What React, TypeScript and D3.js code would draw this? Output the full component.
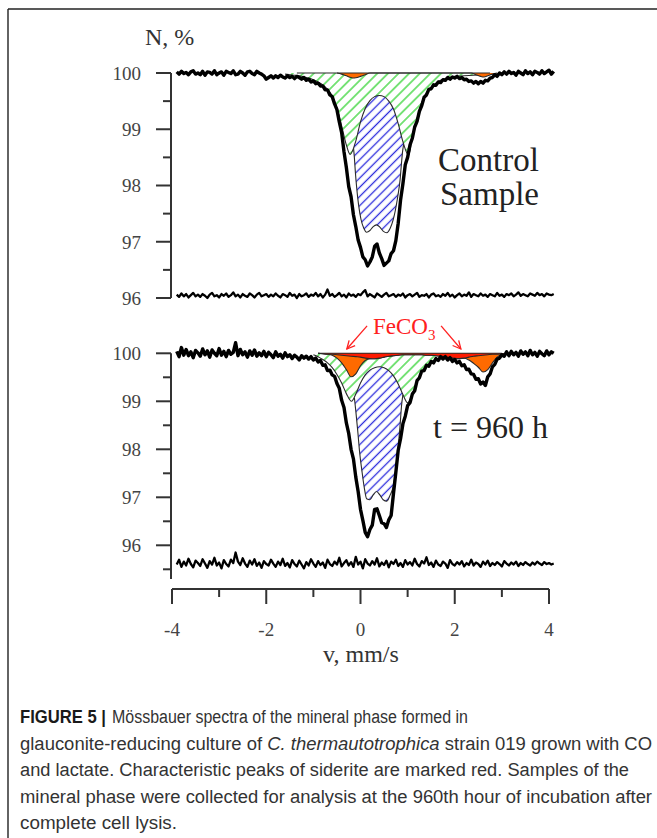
import React from "react";
import * as d3 from "d3";

// ---------- DATA ----------
// velocity channels: start and step (mm/s)
const V0 = -3.9;
const DV = 0.05;

// Control sample: measured spectrum (N, %)
const dataTop = [
  100.02, 99.98, 100.03, 99.99, 100.01, 99.97, 100.02, 100.04, 99.98, 100.0,
  99.97, 100.03, 99.96, 100.02, 100.01, 99.98, 100.04, 99.97, 100.0, 100.02,
  99.96, 100.03, 100.01, 99.99, 100.04, 99.97, 99.98, 100.03, 100.0, 99.96,
  100.02, 100.03, 99.99, 99.97, 100.03, 100.0, 99.98, 99.95, 99.89, 99.92,
  99.95, 99.91, 99.95, 99.92, 99.96, 99.93, 99.91, 99.95, 99.92, 99.94,
  99.9, 99.94, 99.92, 99.89, 99.92, 99.87, 99.89, 99.84, 99.86, 99.81,
  99.82, 99.77, 99.77, 99.7, 99.7, 99.61, 99.58, 99.45, 99.35, 99.13,
  98.94, 98.6, 98.32, 97.98, 97.8, 97.48, 97.27, 97.03, 96.9, 96.73,
  96.68, 96.57, 96.64, 96.73, 96.92, 96.96, 96.8, 96.7, 96.58, 96.62,
  96.66, 96.79, 96.84, 97.02, 97.33, 97.74, 98.03, 98.37, 98.5, 98.72,
  98.84, 99.04, 99.14, 99.32, 99.42, 99.57, 99.61, 99.71, 99.72, 99.79,
  99.78, 99.84, 99.83, 99.88, 99.87, 99.92, 99.89, 99.93, 99.91, 99.94,
  99.9, 99.92, 99.88, 99.89, 99.85, 99.86, 99.82, 99.85, 99.81, 99.85,
  99.82, 99.87, 99.86, 99.91, 99.92, 99.97, 99.94, 100.0, 99.97, 100.02,
  99.98, 100.03, 99.99, 100.01, 99.96, 100.03, 100.0, 99.97, 100.04, 99.99,
  100.02, 99.97, 100.03, 100.01, 99.98, 100.04, 99.99, 100.02, 100.05, 99.98,
  100.03,
];

// Control sample: residual trace
const residTop = [
  96.06, 96.02, 96.08, 96.03, 96.07, 96.01, 96.05, 96.09, 96.03, 96.06,
  96.02, 96.07, 96.04, 96.0, 96.06, 96.09, 96.03, 96.05, 96.01, 96.07,
  96.04, 96.08, 96.02, 96.05, 96.1, 96.03, 96.06, 96.01, 96.07, 96.04,
  96.02, 96.08, 96.05, 96.01, 96.06, 96.09, 96.03, 96.05, 96.07, 96.02,
  96.06, 96.03, 96.08, 96.04, 96.01, 96.07, 96.05, 96.02, 96.09, 96.04,
  96.06, 96.0, 96.07, 96.03, 96.05, 96.08, 96.02, 96.06, 96.04, 96.09,
  96.03, 96.07, 96.01, 96.06, 96.15, 96.04, 96.07, 96.02, 96.05, 96.09,
  96.03, 96.06, 96.01, 96.08, 96.04, 96.06, 96.02, 96.07, 96.05, 96.1,
  96.14, 96.03, 96.07, 96.04, 96.01, 96.08, 96.05, 96.02, 96.06, 96.09,
  96.03, 96.05, 96.07, 96.02, 96.06, 96.04, 96.08, 96.01, 96.05, 96.07,
  96.03, 96.06, 96.09, 96.02, 96.05, 96.04, 96.07, 96.01, 96.06, 96.08,
  96.03, 96.05, 96.02, 96.07, 96.04, 96.09, 96.03, 96.06, 96.01, 96.05,
  96.08, 96.03, 96.06, 96.04, 96.1, 96.02, 96.07, 96.05, 96.03, 96.08,
  96.04, 96.06, 96.02, 96.07, 96.05, 96.03, 96.09, 96.04, 96.06, 96.02,
  96.07, 96.05, 96.08, 96.03, 96.06, 96.1, 96.04, 96.07, 96.05, 96.03,
  96.08, 96.06, 96.04, 96.09, 96.05, 96.07, 96.03, 96.08, 96.06, 96.05,
  96.07,
];

// t = 960 h: measured spectrum
const dataBot = [
  100.04, 99.93, 100.12, 99.96, 100.08, 99.95, 100.03, 99.91, 100.06, 100.01,
  99.94, 100.09, 99.97, 100.05, 99.92, 100.07, 100.0, 99.95, 100.1, 99.96,
  100.04, 99.93, 100.06, 99.98, 100.02, 100.22, 99.95, 100.08, 99.97, 100.03,
  99.92, 100.05, 99.96, 100.07, 99.94, 100.01, 99.95, 100.04, 99.93, 100.02,
  99.97, 99.91, 100.03, 99.94, 99.98, 99.9, 100.01, 99.93, 99.97, 99.89,
  99.96, 99.92, 99.86, 99.95, 99.9, 99.94, 99.88, 99.93, 99.86, 99.9,
  99.82, 99.85, 99.75, 99.76, 99.64, 99.65, 99.55, 99.52, 99.37, 99.27,
  99.02, 98.87, 98.55, 98.33, 98.0, 97.8, 97.42, 97.12, 96.75, 96.52,
  96.27, 96.18, 96.33, 96.42, 96.75, 96.76, 96.62, 96.47, 96.45, 96.37,
  96.53, 96.62, 97.08, 97.52, 97.98, 98.22, 98.53, 98.69, 98.91, 98.97,
  99.15, 99.22, 99.43, 99.49, 99.63, 99.64, 99.75, 99.73, 99.83, 99.8,
  99.89, 99.85, 99.93, 99.88, 99.93, 99.86, 99.91, 99.83, 99.87, 99.8,
  99.83, 99.74, 99.76, 99.66, 99.67, 99.57, 99.56, 99.46, 99.47, 99.36,
  99.4, 99.33, 99.51, 99.57, 99.72, 99.77, 99.88, 99.9, 99.97, 99.94,
  100.03, 99.95, 100.04, 99.97, 100.02, 99.94, 100.05, 99.98, 100.03, 99.95,
  100.06, 99.97, 100.02, 99.94, 100.04, 99.99, 99.95, 100.05, 99.97, 100.03,
  100.0,
];

// t = 960 h: residual trace
const residBot = [
  95.6, 95.7, 95.55, 95.66, 95.58, 95.72, 95.61, 95.54, 95.68, 95.63,
  95.57, 95.71, 95.62, 95.53, 95.67, 95.6, 95.74, 95.58, 95.64, 95.52,
  95.69, 95.61, 95.56, 95.7, 95.63, 95.85, 95.66, 95.59, 95.73, 95.62,
  95.55, 95.68, 95.6, 95.71, 95.57, 95.64, 95.53, 95.67, 95.61, 95.58,
  95.7, 95.62, 95.55, 95.66, 95.59, 95.72, 95.57, 95.63, 95.54, 95.69,
  95.61, 95.56, 95.68, 95.6, 95.52, 95.65, 95.58, 95.71, 95.62, 95.55,
  95.67, 95.59, 95.64, 95.53, 95.7, 95.61, 95.57, 95.66, 95.6, 95.74,
  95.56, 95.63, 95.69, 95.58, 95.65, 95.55, 95.76, 95.6, 95.66, 95.52,
  95.71, 95.62, 95.58, 95.67, 95.6, 95.73, 95.56, 95.64, 95.59, 95.68,
  95.54, 95.66, 95.61, 95.7, 95.57, 95.63, 95.55, 95.69, 95.6, 95.65,
  95.58, 95.72, 95.61, 95.56, 95.67, 95.62, 95.75, 95.59, 95.64, 95.55,
  95.68, 95.6, 95.57, 95.66, 95.62, 95.53, 95.69, 95.61, 95.58, 95.65,
  95.6, 95.67, 95.56, 95.63, 95.59, 95.7, 95.58, 95.64, 95.61, 95.55,
  95.66, 95.6, 95.68, 95.57, 95.63, 95.59, 95.65, 95.61, 95.56, 95.67,
  95.62, 95.58, 95.64, 95.6, 95.66, 95.57, 95.63, 95.59, 95.65, 95.61,
  95.58, 95.64, 95.6, 95.66, 95.62, 95.59, 95.65, 95.61, 95.63, 95.6,
  95.62,
];

// Control sample subspectra (lower edges of stacked fills)
const greenTopV = [-1.6, -1.5, -1.4, -1.3, -1.2, -1.1, -1.0, -0.9, -0.8, -0.7, -0.6, -0.5, -0.4, -0.3, -0.22, -0.1, 0.0, 0.1, 0.2, 0.3, 0.4, 0.5, 0.6, 0.7, 0.8, 0.9, 1.02, 1.1, 1.2, 1.3, 1.4, 1.5, 1.6, 1.7, 1.8, 1.9, 2.0, 2.2, 2.4, 2.6, 2.8, 3.0, 3.2];
const greenTop = [99.98, 99.97, 99.96, 99.95, 99.93, 99.91, 99.88, 99.84, 99.79, 99.71, 99.59, 99.38, 99.06, 98.72, 98.55, 98.79, 99.13, 99.37, 99.51, 99.58, 99.6, 99.58, 99.5, 99.36, 99.1, 98.78, 98.54, 98.86, 99.19, 99.48, 99.65, 99.75, 99.82, 99.87, 99.9, 99.92, 99.94, 99.95, 99.96, 99.97, 99.98, 99.99, 100];
const blueTopV = [-0.15, -0.13, -0.11, -0.08, -0.04, 0.01, 0.07, 0.13, 0.2, 0.27, 0.34, 0.41, 0.48, 0.56, 0.63, 0.69, 0.74, 0.79, 0.84, 0.87, 0.9, 0.92];
const blueTop = [98.68, 98.5, 98.25, 97.95, 97.65, 97.4, 97.24, 97.17, 97.2, 97.27, 97.3, 97.26, 97.19, 97.16, 97.24, 97.38, 97.56, 97.8, 98.1, 98.4, 98.65, 98.74];
const orangeTopV = [-0.5, -0.4, -0.3, -0.2, -0.15, -0.1, 0.0, 0.1, 0.2, 0.4, 2.2, 2.35, 2.45, 2.55, 2.62, 2.7, 2.8, 2.9];
const orangeTop = [100, 99.98, 99.95, 99.92, 99.91, 99.915, 99.94, 99.97, 100, 100, 100, 100, 99.97, 99.94, 99.93, 99.95, 99.98, 100];

// t = 960 h subspectra (lower edges of stacked fills)
const redBotV = [-0.9, -0.8, -0.7, -0.6, -0.5, -0.4, -0.3, -0.2, -0.1, 0.0, 0.1, 0.2, 0.3, 0.4, 0.5, 0.6, 0.7, 0.8, 0.9, 1.0, 1.1, 1.2, 1.3, 1.4, 1.5, 1.6, 1.7, 1.8, 1.9, 2.0, 2.1, 2.2, 2.3, 2.4, 2.5, 2.6, 2.7, 2.8, 2.9, 3.0, 3.1, 3.2, 3.3];
const redBot = [100, 99.99, 99.98, 99.98, 99.97, 99.96, 99.95, 99.94, 99.93, 99.92, 99.9, 99.89, 99.885, 99.9, 99.92, 99.94, 99.95, 99.96, 99.97, 99.97, 99.97, 99.97, 99.97, 99.96, 99.96, 99.95, 99.94, 99.93, 99.91, 99.895, 99.89, 99.9, 99.92, 99.94, 99.95, 99.96, 99.97, 99.98, 99.98, 99.99, 99.99, 100, 100];
const orangeBot = [100, 99.99, 99.98, 99.96, 99.9, 99.8, 99.66, 99.51, 99.57, 99.74, 99.85, 99.885, 99.885, 99.9, 99.92, 99.94, 99.95, 99.96, 99.97, 99.97, 99.97, 99.97, 99.97, 99.96, 99.96, 99.95, 99.94, 99.93, 99.91, 99.895, 99.89, 99.9, 99.86, 99.79, 99.71, 99.61, 99.66, 99.8, 99.92, 99.98, 99.99, 100, 100];
const greenBotV = [-1.0, -0.9, -0.8, -0.7, -0.6, -0.5, -0.4, -0.3, -0.19, -0.1, 0.0, 0.1, 0.2, 0.3, 0.4, 0.5, 0.6, 0.7, 0.8, 0.9, 1.0, 1.1, 1.2, 1.3, 1.4, 1.5, 1.6, 1.7, 1.8, 2.0, 2.2, 2.4];
const greenBot = [99.97, 99.93, 99.87, 99.8, 99.7, 99.56, 99.38, 99.16, 99.0, 99.15, 99.38, 99.55, 99.65, 99.7, 99.72, 99.7, 99.64, 99.53, 99.36, 99.14, 98.97, 99.15, 99.42, 99.62, 99.74, 99.82, 99.87, 99.91, 99.94, 99.96, 99.97, 99.98];
const blueBotV = [-0.13, -0.1, -0.06, -0.02, 0.03, 0.08, 0.13, 0.2, 0.27, 0.34, 0.41, 0.48, 0.56, 0.63, 0.7, 0.75, 0.8, 0.84, 0.87, 0.9];
const blueBot = [99.08, 98.8, 98.4, 97.95, 97.55, 97.2, 96.97, 96.95, 97.05, 97.12, 97.05, 96.95, 96.92, 97.05, 97.25, 97.6, 98.05, 98.5, 98.9, 99.14];

// axes
const xMajor = [-4, -2, 0, 2, 4];
const xMinor = [-3, -1, 1, 3];
const yMajor = [100, 99, 98, 97, 96];
const yMinorTop = [99.5, 98.5, 97.5, 96.5];
const yMinorBot = [99.5, 98.5, 97.5, 96.5, 95.5];
const baselineTop = [-1.35, 2.75];
const baselineBot = [-0.9, 3.0];

const captionLines = [
  "and lactate. Characteristic peaks of siderite are marked red. Samples of the",
  "mineral phase were collected for analysis at the 960th hour of incubation after",
  "complete cell lysis.",
];

// ---------- LAYOUT ----------
const W = 657;
const H = 838;
const x = d3.scaleLinear().domain([-4, 4]).range([172, 549]);
const yTop = d3.scaleLinear().domain([96, 100]).range([298, 73]);
const yBot = d3.scaleLinear().domain([96, 100]).range([545.3, 353.3]);
const velocity = dataTop.map((_, i) => V0 + i * DV);

type Y = d3.ScaleLinear<number, number>;

function lineOf(vs: number[], ns: number[], y: Y, curve = d3.curveMonotoneX) {
  const pts = vs.map((v, i) => [v, ns[i]] as [number, number]);
  return d3.line<[number, number]>().x((d) => x(d[0])).y((d) => y(d[1])).curve(curve)(pts) || "";
}
function areaOf(vs: number[], ns: number[], y: Y) {
  const pts = vs.map((v, i) => [v, ns[i]] as [number, number]);
  return d3.area<[number, number]>().x((d) => x(d[0])).y0(y(100)).y1((d) => y(d[1])).curve(d3.curveMonotoneX)(pts) || "";
}

const SERIF = "'Liberation Serif', 'Times New Roman', serif";
const OUT = "#2a2a2a";

function Panel({ y, data, resid, layers, minor, axisEnd, baseline }: any) {
  return (
    <g>
      {layers.map((l: any, i: number) => (
        <g key={i}>
          <path d={areaOf(l.v, l.n, y)} fill={l.fill} stroke="none" />
          <path d={lineOf(l.v, l.n, y)} fill="none" stroke={OUT} strokeWidth={1.1} />
        </g>
      ))}
      <line x1={x(baseline[0])} x2={x(baseline[1])} y1={y(100)} y2={y(100)} stroke={OUT} strokeWidth={1.1} />
      <path d={lineOf(velocity, resid, y, d3.curveLinear)} fill="none" stroke="#000" strokeWidth={2.3} strokeLinejoin="round" />
      <path d={lineOf(velocity, data, y, d3.curveLinear)} fill="none" stroke="#000" strokeWidth={3.4} strokeLinejoin="round" />
      {/* y axis */}
      <line x1={171} x2={171} y1={y(100)} y2={y(axisEnd)} stroke="#333" strokeWidth={2} />
      {yMajor.map((t) => (
        <g key={t}>
          <line x1={156} x2={171} y1={y(t)} y2={y(t)} stroke="#333" strokeWidth={2} />
          <text x={141} y={y(t)} dy="0.36em" textAnchor="end" fontFamily={SERIF} fontSize={19} fill="#444">
            {t}
          </text>
        </g>
      ))}
      {minor.map((t: number) => (
        <line key={t} x1={163} x2={171} y1={y(t)} y2={y(t)} stroke="#333" strokeWidth={2} />
      ))}
    </g>
  );
}

export default function App() {
  const topLayers = [
    { v: blueTopV, n: blueTop, fill: "url(#blueHatch)" },
    { v: greenTopV, n: greenTop, fill: "url(#greenHatch)" },
    { v: orangeTopV, n: orangeTop, fill: "#ff6a00" },
  ];
  const botLayers = [
    { v: blueBotV, n: blueBot, fill: "url(#blueHatch)" },
    { v: greenBotV, n: greenBot, fill: "url(#greenHatch)" },
    { v: redBotV, n: orangeBot, fill: "#ff6a00" },
    { v: redBotV, n: redBot, fill: "#ff1a00" },
  ];
  const axisY = 589;
  const capY0 = 723;
  const capDY = 26.5;
  return (
    <svg width={W} height={H} style={{ position: "absolute", left: 0, top: 0, background: "#fff" }}>
      <defs>
        <pattern id="greenHatch" patternUnits="userSpaceOnUse" width={7.5} height={7.5} patternTransform="rotate(45)">
          <rect width={7.5} height={7.5} fill="#fff" />
          <line x1={3.75} y1={0} x2={3.75} y2={7.5} stroke="#35d435" strokeWidth={1.3} />
        </pattern>
        <pattern id="blueHatch" patternUnits="userSpaceOnUse" width={6.5} height={6.5} patternTransform="rotate(45)">
          <rect width={6.5} height={6.5} fill="#fff" />
          <line x1={3.25} y1={0} x2={3.25} y2={6.5} stroke="#2b2bdc" strokeWidth={1.3} />
        </pattern>
        <marker id="arrowRed" viewBox="0 0 10 10" refX={9} refY={5} markerWidth={10} markerHeight={10} markerUnits="userSpaceOnUse" orient="auto">
          <path d="M1,1 L9,5 L1,9" fill="none" stroke="#ff2020" strokeWidth={1.3} />
        </marker>
      </defs>
      <rect width={W} height={H} fill="#fff" />
      {/* frame */}
      <line x1={8} x2={8} y1={9} y2={H} stroke="#222" strokeWidth={1.4} />
      <line x1={8} x2={W} y1={9} y2={9} stroke="#222" strokeWidth={1.4} />

      <text x={145} y={45} fontFamily={SERIF} fontSize={24} fill="#333">N, %</text>

      <Panel y={yTop} data={dataTop} resid={residTop} layers={topLayers} minor={yMinorTop} axisEnd={96} baseline={baselineTop} />
      <Panel y={yBot} data={dataBot} resid={residBot} layers={botLayers} minor={yMinorBot} axisEnd={95.3} baseline={baselineBot} />

      <text x={438} y={171} fontFamily={SERIF} fontSize={33} fill="#222">Control</text>
      <text x={440} y={205} fontFamily={SERIF} fontSize={33} fill="#222">Sample</text>
      <text x={433} y={438} fontFamily={SERIF} fontSize={32} fill="#222">t = 960 h</text>

      {/* FeCO3 annotation */}
      <text x={373} y={334} fontFamily={SERIF} fontSize={23} fill="#ff2020">
        FeCO<tspan fontSize={15} dy={6}>3</tspan>
      </text>
      <line x1={x(0.14)} y1={yBot(100.57)} x2={x(-0.29)} y2={yBot(100.09)} stroke="#ff2020" strokeWidth={1.3} markerEnd="url(#arrowRed)" />
      <line x1={x(1.71)} y1={yBot(100.57)} x2={x(2.13)} y2={yBot(100.09)} stroke="#ff2020" strokeWidth={1.3} markerEnd="url(#arrowRed)" />

      {/* x axis */}
      <line x1={x(-4)} x2={x(4)} y1={axisY} y2={axisY} stroke="#333" strokeWidth={2} />
      {xMajor.map((t) => (
        <g key={t}>
          <line x1={x(t)} x2={x(t)} y1={axisY} y2={axisY + 15} stroke="#333" strokeWidth={2} />
          <text x={x(t)} y={636} textAnchor="middle" fontFamily={SERIF} fontSize={19} fill="#444">
            {t < 0 ? `-${Math.abs(t)}` : `${t}`}
          </text>
        </g>
      ))}
      {xMinor.map((t) => (
        <line key={t} x1={x(t)} x2={x(t)} y1={axisY} y2={axisY + 8} stroke="#333" strokeWidth={2} />
      ))}
      <text x={361} y={662} textAnchor="middle" fontFamily={SERIF} fontSize={24} fill="#333">v, mm/s</text>

      {/* caption */}
      <g fontFamily="'Liberation Sans', Arial, sans-serif" fontSize={18} fill="#333">
        <text x={20} y={capY0} textLength={86} lengthAdjust="spacingAndGlyphs" fontWeight="bold" fill="#1a1a1a">
          FIGURE 5 |
        </text>
        <text x={112} y={capY0} textLength={356} lengthAdjust="spacingAndGlyphs">
          Mössbauer spectra of the mineral phase formed in
        </text>
        <text x={20} y={capY0 + capDY} textLength={632} lengthAdjust="spacingAndGlyphs">
          glauconite-reducing culture of <tspan fontStyle="italic">C. thermautotrophica</tspan> strain 019 grown with CO
        </text>
        <text x={20} y={capY0 + 2 * capDY} textLength={609} lengthAdjust="spacingAndGlyphs">{captionLines[0]}</text>
        <text x={20} y={capY0 + 3 * capDY} textLength={632} lengthAdjust="spacingAndGlyphs">{captionLines[1]}</text>
        <text x={20} y={capY0 + 4 * capDY} textLength={157} lengthAdjust="spacingAndGlyphs">{captionLines[2]}</text>
      </g>
    </svg>
  );
}
